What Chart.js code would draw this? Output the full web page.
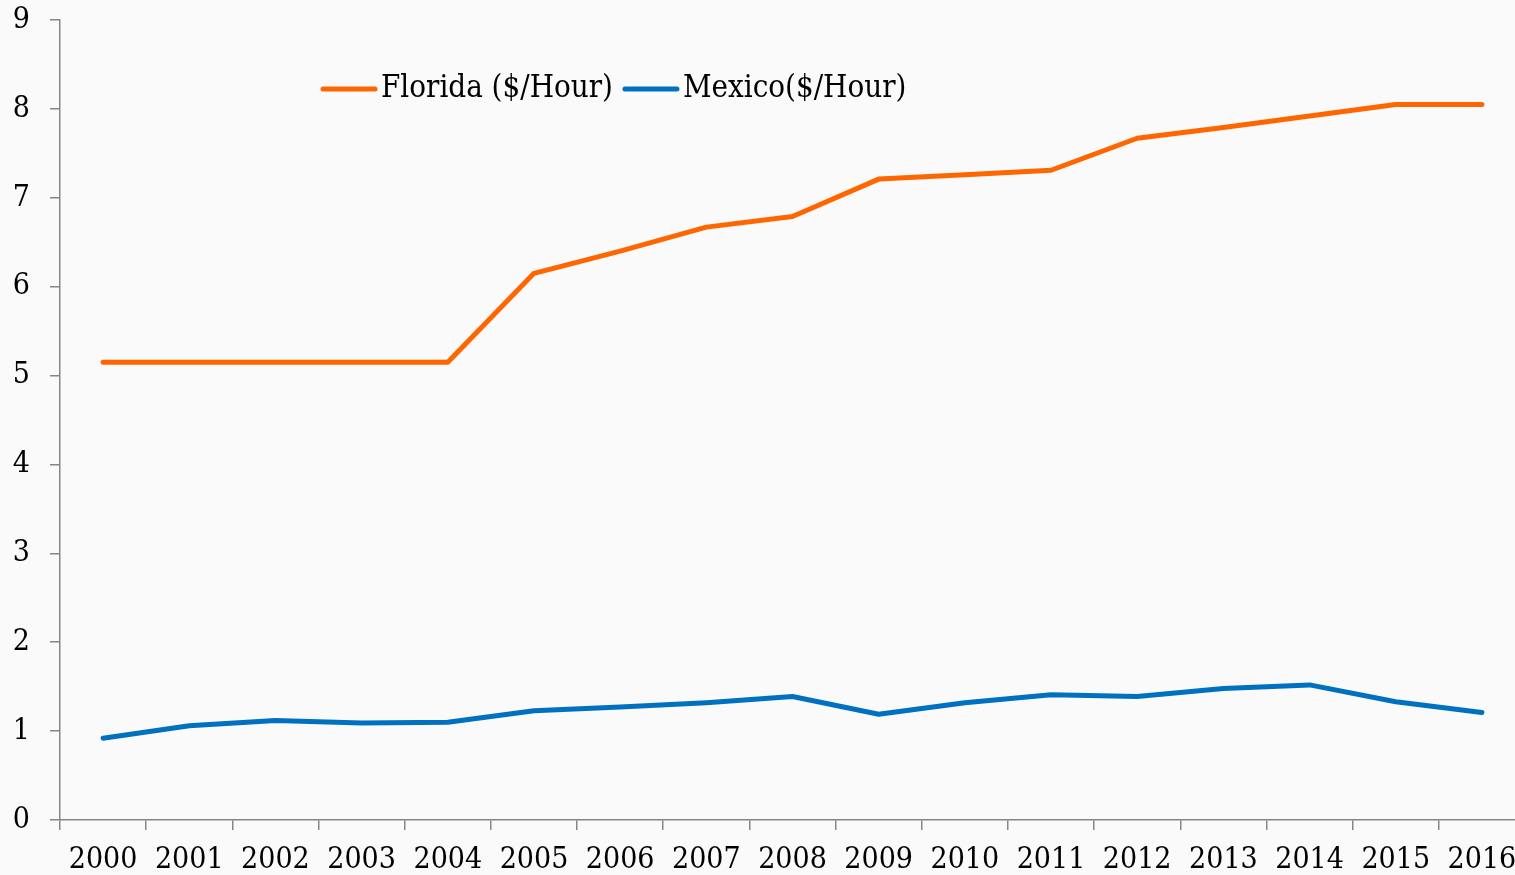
<!DOCTYPE html>
<html>
<head>
<meta charset="utf-8">
<script src="https://cdn.jsdelivr.net/npm/chart.js@4.4.0/dist/chart.umd.min.js"></script>
<style>
  html, body { margin: 0; padding: 0; overflow: hidden; background: #fafafa; }
  #wrap { position: absolute; left: 0; top: 0; width: 1525px; height: 875px; }
</style>
</head>
<body>
<div id="wrap"><canvas id="wageChart"></canvas></div>
<script>
// data
const years = ['2000', '2001', '2002', '2003', '2004', '2005', '2006', '2007', '2008',
               '2009', '2010', '2011', '2012', '2013', '2014', '2015', '2016'];
const floridaWage = [5.15, 5.15, 5.15, 5.15, 5.15, 6.15, 6.40, 6.67, 6.79,
                     7.21, 7.26, 7.31, 7.67, 7.79, 7.92, 8.05, 8.05];
const mexicoWage = [0.92, 1.06, 1.12, 1.09, 1.10, 1.23, 1.27, 1.32, 1.39,
                    1.19, 1.32, 1.41, 1.39, 1.48, 1.52, 1.33, 1.21];
const seriesNames = ['Florida ($/Hour)', 'Mexico($/Hour)'];
const seriesColors = ['#ff6600', '#0070c0'];

const FONT = "'DejaVu Serif Condensed', 'DejaVu Serif', serif";
const AXIS_GREY = '#868686';

// legend sits inside the plot, drawn by hand
const inlineLegend = {
    id: 'inlineLegend',
    afterDraw(chart) {
        const ctx = chart.ctx;
        const y = 89;
        let x = 323;
        ctx.save();
        ctx.font = '31px ' + FONT;
        ctx.textBaseline = 'middle';
        ctx.lineCap = 'round';
        chart.data.datasets.forEach((ds) => {
            ctx.strokeStyle = ds.borderColor;
            ctx.lineWidth = 5;
            ctx.beginPath();
            ctx.moveTo(x, y);
            ctx.lineTo(x + 52, y);
            ctx.stroke();
            x += 58;
            ctx.fillStyle = '#000';
            ctx.fillText(ds.label, x, y);
            x += ctx.measureText(ds.label).width + 12;
        });
        ctx.restore();
    }
};

function initChart() {
    Chart.defaults.font.family = FONT;
    Chart.defaults.color = '#000';

    const ctx = document.getElementById('wageChart').getContext('2d');
    new Chart(ctx, {
        type: 'line',
        data: {
            labels: years,
            datasets: [floridaWage, mexicoWage].map((vals, i) => ({
                label: seriesNames[i],
                data: vals,
                borderColor: seriesColors[i],
                backgroundColor: seriesColors[i],
                borderWidth: 5,
                borderCapStyle: 'round',
                borderJoinStyle: 'round',
                pointRadius: 0,
                tension: 0
            }))
        },
        options: {
            responsive: true,
            maintainAspectRatio: false,
            animation: false,
            layout: { autoPadding: false, padding: { top: 20, right: 0, left: 0, bottom: 0 } },
            scales: {
                x: {
                    offset: true,
                    grid: {
                        offset: true,
                        drawOnChartArea: false,
                        tickLength: 10,
                        color: AXIS_GREY,
                        lineWidth: 1.5
                    },
                    border: { color: AXIS_GREY, width: 1.5 },
                    ticks: { font: { size: 30 }, padding: 12, maxRotation: 0, autoSkip: false },
                    afterFit(scale) {
                        scale.height = 55;
                        scale.paddingLeft = 0;
                        scale.paddingRight = 0;
                    }
                },
                y: {
                    min: 0,
                    max: 9,
                    grid: {
                        drawOnChartArea: false,
                        tickLength: 10,
                        color: AXIS_GREY,
                        lineWidth: 1.5
                    },
                    border: { color: AXIS_GREY, width: 1.5 },
                    ticks: { stepSize: 1, font: { size: 30 }, padding: 20 },
                    afterFit(scale) {
                        scale.width = 60;
                        scale.paddingTop = 0;
                        scale.paddingBottom = 0;
                    }
                }
            },
            plugins: {
                legend: { display: false },
                tooltip: { enabled: false }
            }
        },
        plugins: [inlineLegend]
    });
}

document.addEventListener('DOMContentLoaded', initChart);
</script>
</body>
</html>
